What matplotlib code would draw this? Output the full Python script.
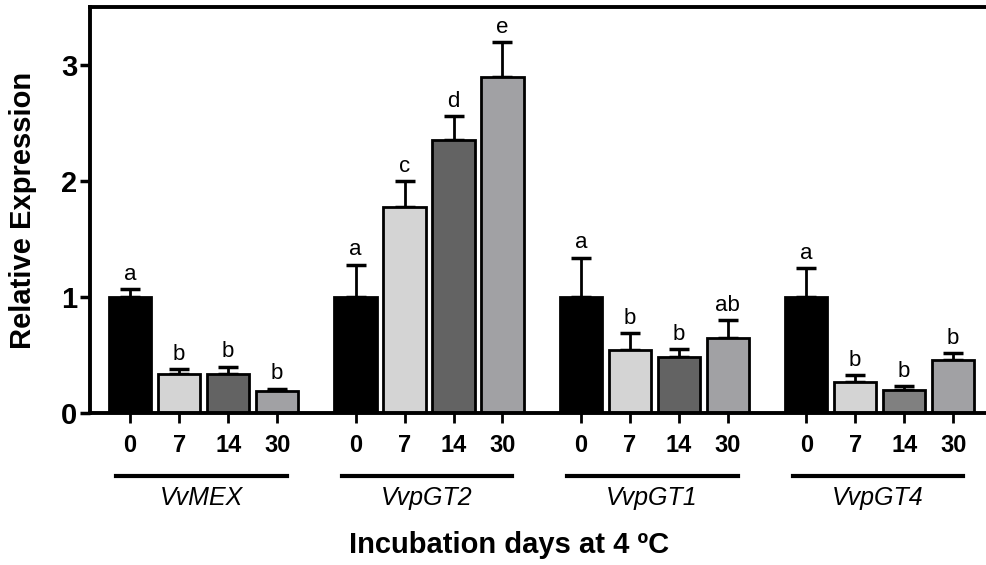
import matplotlib
matplotlib.use("Agg")
import matplotlib.pyplot as plt
import numpy as np

plt.rcParams["font.family"] = ["Liberation Sans", "DejaVu Sans"]

genes = ["VvMEX", "VvpGT2", "VvpGT1", "VvpGT4"]
days = ["0", "7", "14", "30"]
means = [
    [1.00, 0.34, 0.34, 0.19],
    [1.00, 1.78, 2.35, 2.90],
    [1.00, 0.54, 0.48, 0.65],
    [1.00, 0.27, 0.20, 0.46],
]
errs = [
    [0.07, 0.04, 0.06, 0.02],
    [0.28, 0.22, 0.21, 0.30],
    [0.34, 0.15, 0.07, 0.15],
    [0.25, 0.06, 0.03, 0.06],
]
letters = [
    ["a", "b", "b", "b"],
    ["a", "c", "d", "e"],
    ["a", "b", "b", "ab"],
    ["a", "b", "b", "b"],
]
colors = [
    ["#000000", "#d4d4d4", "#636363", "#a1a1a4"],
    ["#000000", "#d4d4d4", "#636363", "#a1a1a4"],
    ["#000000", "#d4d4d4", "#636363", "#a1a1a4"],
    ["#000000", "#d4d4d4", "#808080", "#a1a1a4"],
]

GROUP_STEP = 4.6

fig = plt.figure(figsize=(9.87, 5.65), dpi=100)
ax = fig.add_axes([90 / 987, 1 - 413 / 565, 1 - 90 / 987, (413 - 7) / 565])

xticks, xlabels = [], []
for g, gene in enumerate(genes):
    x = g * GROUP_STEP + np.arange(len(days))
    ax.bar(x, means[g], width=0.86, color=colors[g], edgecolor="black",
           linewidth=2, zorder=2)
    ax.errorbar(x, means[g], yerr=[np.zeros(len(days)), errs[g]], fmt="none",
                ecolor="black", elinewidth=2, capsize=7, capthick=2.5, zorder=1)
    for xi, m, e, lt in zip(x, means[g], errs[g], letters[g]):
        ax.annotate(lt, (xi, m + e), textcoords="offset points", xytext=(0, 3),
                    ha="center", va="bottom", fontsize=16)
    xticks.extend(x)
    xlabels.extend(days)
    # group underline and gene name below the tick labels
    ax.plot([x[0] - 0.28, x[-1] + 0.2], [-0.155, -0.155], color="black",
            linewidth=3, transform=ax.get_xaxis_transform(), clip_on=False)
    ax.text((x[0] + x[-1]) / 2 - 0.05, -0.21, gene, style="italic",
            fontsize=18, ha="center", va="center",
            transform=ax.get_xaxis_transform())

ax.set_xlim(-0.82, 17.49)
ax.set_ylim(0, 3.5)
ax.set_yticks([0, 1, 2, 3])
ax.set_xticks(xticks)
ax.set_xticklabels(xlabels, fontsize=17, fontweight="bold")
for lab in ax.get_yticklabels():
    lab.set_fontsize(21)
    lab.set_fontweight("bold")
ax.tick_params(axis="y", length=7, width=2.5, pad=2)
ax.tick_params(axis="x", length=7, width=2, pad=8)

ax.spines["right"].set_visible(False)
for side in ("top", "left", "bottom"):
    ax.spines[side].set_linewidth(2.8)

fig.text(23 / 987, 1 - 210 / 565, "Relative Expression", rotation=90,
         fontsize=21, fontweight="bold", ha="center", va="center")
fig.text(509 / 987, 1 - 545 / 565, "Incubation days at 4 ºC",
         fontsize=21, fontweight="bold", ha="center", va="center")

fig.savefig("out.png", dpi=100)
